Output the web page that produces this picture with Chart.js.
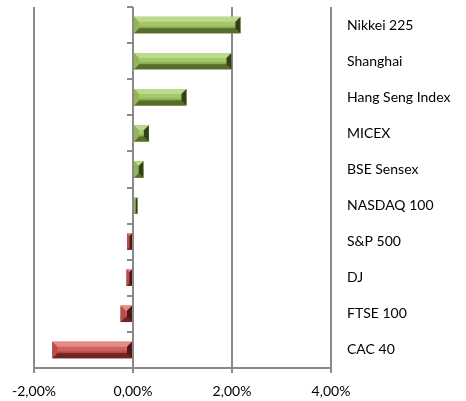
<!DOCTYPE html>
<html>
<head>
<meta charset="utf-8">
<script src="https://cdn.jsdelivr.net/npm/chart.js@4.4.1/dist/chart.umd.min.js"></script>
<style>
  html, body { margin: 0; padding: 0; background: #fff; }
  #wrap { width: 466px; height: 401px; }
</style>
</head>
<body>
<div id="wrap"><canvas id="barChart"></canvas></div>
<script>
const labels = ['Nikkei 225', 'Shanghai', 'Hang Seng Index', 'MICEX', 'BSE Sensex', 'NASDAQ 100', 'S&P 500', 'DJ', 'FTSE 100', 'CAC 40'];
const changes = [2.17, 1.99, 1.08, 0.32, 0.21, 0.09, -0.12, -0.13, -0.25, -1.63];
const xMin = -2, xMax = 4, xStep = 2;

const green = { face1: '#a4c767', face2: '#7f9c45', top: '#bcd98c', bottom: '#566d2d', left: '#93b459', right: '#323f1a' };
const red = { face1: '#d2625f', face2: '#a2403d', top: '#e48a87', bottom: '#6e2624', left: '#b84e4b', right: '#4f1817' };
const gridGrey = '#8a8a8a';
const labelFont = { family: 'Lato, "Open Sans", sans-serif', size: 14 };

function poly(c, pts, fill) {
  c.beginPath();
  c.moveTo(pts[0][0], pts[0][1]);
  for (let i = 1; i < pts.length; i++) c.lineTo(pts[i][0], pts[i][1]);
  c.closePath();
  c.fillStyle = fill;
  c.fill();
}

// bevel look like the Excel 3D bars, plus the little ticks on the zero axis
const bevelPlugin = {
  id: 'bevel',
  afterDatasetsDraw(chart) {
    const c = chart.ctx;
    c.save();
    chart.getDatasetMeta(0).data.forEach((bar, i) => {
      const p = bar.getProps(['x', 'y', 'base', 'height'], true);
      const l = Math.min(p.x, p.base), r = Math.max(p.x, p.base);
      const t = p.y - p.height / 2, b = p.y + p.height / 2;
      const s = Math.min(5, (r - l) / 2, (b - t) / 2);
      const pal = changes[i] >= 0 ? green : red;
      const g = c.createLinearGradient(0, t, 0, b);
      g.addColorStop(0, pal.face1);
      g.addColorStop(0.5, pal.face1);
      g.addColorStop(0.72, pal.face2);
      g.addColorStop(1, pal.face2);
      c.fillStyle = g;
      c.fillRect(l, t, r - l, b - t);
      poly(c, [[l, t], [r, t], [r - s, t + s], [l + s, t + s]], pal.top);
      poly(c, [[l, b], [r, b], [r - s, b - s], [l + s, b - s]], pal.bottom);
      poly(c, [[l, t], [l + s, t + s], [l + s, b - s], [l, b]], pal.left);
      poly(c, [[r, t], [r - s, t + s], [r - s, b - s], [r, b]], pal.right);
    });
    // category tick marks on the 0 line
    const xs = chart.scales.x, ys = chart.scales.y;
    const x0 = xs.getPixelForValue(0);
    const half = (ys.getPixelForValue(1) - ys.getPixelForValue(0)) / 2;
    c.strokeStyle = gridGrey;
    c.lineWidth = 2;
    for (let i = 0; i <= labels.length; i++) {
      const yy = Math.round(ys.getPixelForValue(i) - half);
      c.beginPath();
      c.moveTo(x0 - 6, yy);
      c.lineTo(x0, yy);
      c.stroke();
    }
    c.restore();
  }
};

const ctx = document.getElementById('barChart').getContext('2d');
new Chart(ctx, {
  type: 'bar',
  data: {
    labels: labels,
    datasets: [{
      data: changes,
      backgroundColor: (c) => (c.raw >= 0 ? green.face1 : red.face1),
      barPercentage: 0.84,
      categoryPercentage: 0.54
    }]
  },
  options: {
    indexAxis: 'y',
    responsive: true,
    maintainAspectRatio: false,
    animation: false,
    layout: { padding: { left: 34, top: 7, right: 0, bottom: 0 } },
    plugins: {
      legend: { display: false },
      tooltip: { enabled: false }
    },
    scales: {
      x: {
        min: xMin,
        max: xMax,
        ticks: {
          stepSize: xStep,
          color: '#000',
          font: labelFont,
          padding: 10,
          callback: (v) => v.toFixed(2).replace('.', ',') + '%'
        },
        grid: { color: gridGrey, lineWidth: 2, tickLength: 5 },
        border: { color: gridGrey, width: 2 },
        afterFit: (s) => { s.height = 33; }
      },
      y: {
        type: 'category',
        position: 'right',
        display: false
      },
      y2: {
        type: 'category',
        labels: labels,
        position: 'right',
        offset: true,
        grid: { display: false, drawTicks: true, tickLength: 16 },
        border: { display: false },
        ticks: {
          color: '#000',
          padding: 0,
          font: Object.assign({ lineHeight: 1 }, labelFont)
        },
        afterFit: (s) => { s.width = 135; }
      }
    }
  },
  plugins: [bevelPlugin]
});
</script>
</body>
</html>
